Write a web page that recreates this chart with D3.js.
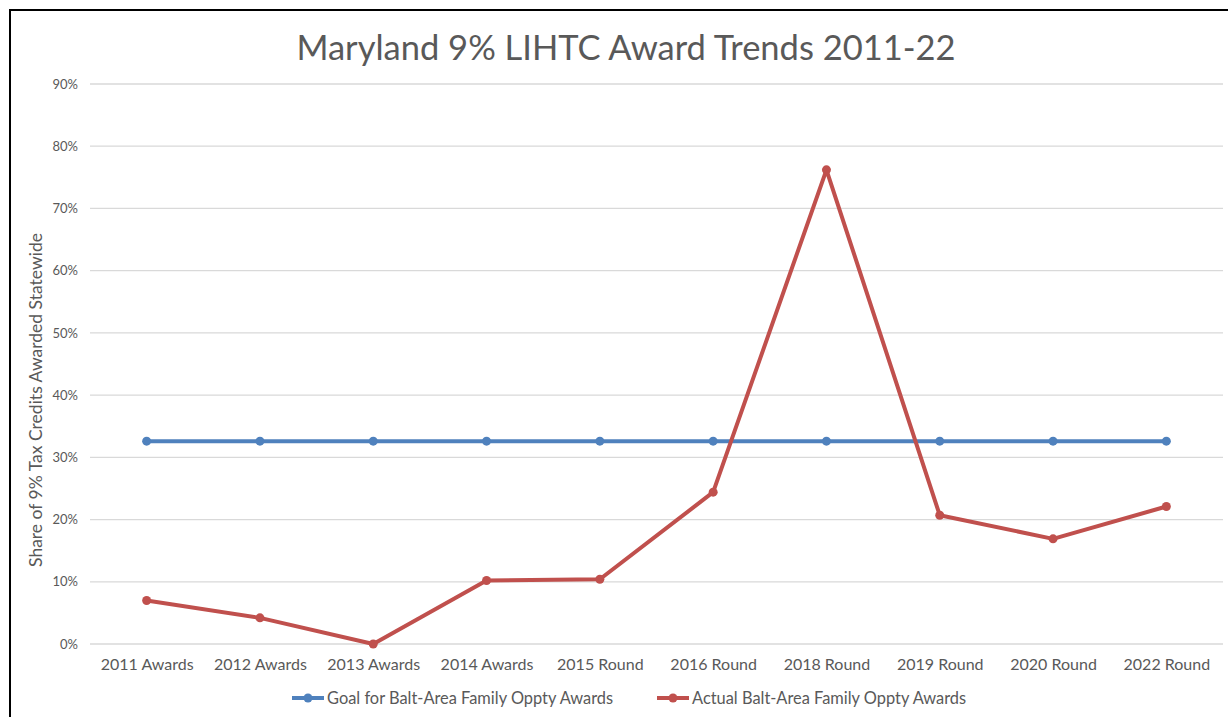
<!DOCTYPE html>
<html>
<head>
<meta charset="utf-8">
<script src="https://cdn.jsdelivr.net/npm/d3@7"></script>
<style>
  body { margin: 0; background: #fff; }
  svg { display: block; font-family: Lato, "Open Sans", sans-serif; }
</style>
</head>
<body>
<div class="chart"></div>
<script>
// chart data
const categories = ["2011 Awards", "2012 Awards", "2013 Awards", "2014 Awards", "2015 Round",
  "2016 Round", "2018 Round", "2019 Round", "2020 Round", "2022 Round"]
const goalValues = [0.326, 0.326, 0.326, 0.326, 0.326, 0.326, 0.326, 0.326, 0.326, 0.326]
const actualValues = [0.070, 0.042, 0.0, 0.102, 0.104, 0.244, 0.762, 0.207, 0.169, 0.221]
const yTicks = [0, 0.1, 0.2, 0.3, 0.4, 0.5, 0.6, 0.7, 0.8, 0.9]
const seriesNames = ["Goal for Balt-Area Family Oppty Awards", "Actual Balt-Area Family Oppty Awards"]
const seriesColors = ["#4f81bd", "#c0504d"]

let width = 1228, height = 717

let svg = d3.select("div.chart").append("svg")
  .attr("width", width)
  .attr("height", height)

// outer frame
svg.append("rect")
  .attr("x", 10).attr("y", 10)
  .attr("width", width + 10).attr("height", height + 10)
  .attr("fill", "none").attr("stroke", "#000").attr("stroke-width", 2)

svg.append("text")
  .attr("x", 626).attr("y", 60)
  .attr("text-anchor", "middle")
  .attr("fill", "#595959")
  .attr("font-size", 34.5)
  .text("Maryland 9% LIHTC Award Trends 2011-22")

let plotLeft = 90, plotRight = 1223, plotTop = 84, plotBottom = 644

let x = d3.scalePoint().domain(categories).range([plotLeft, plotRight]).padding(0.5)
let y = d3.scaleLinear().domain([0, 0.9]).range([plotBottom, plotTop])

// gridlines
svg.append("g").selectAll("line")
  .data(yTicks).enter().append("line")
  .attr("x1", plotLeft).attr("x2", plotRight)
  .attr("y1", d => y(d)).attr("y2", d => y(d))
  .attr("stroke", "#d9d9d9").attr("stroke-width", 1.3)

// y axis labels
let yAxis = svg.append("g")
  .attr("transform", `translate(${plotLeft - 12},0)`)
  .call(d3.axisLeft(y).tickValues(yTicks).tickFormat(d3.format(".0%")).tickSize(0).tickPadding(0))
yAxis.select(".domain").remove()
yAxis.selectAll("text").attr("fill", "#595959").attr("font-size", 13).attr("font-family", "Lato, sans-serif")

// x axis labels
let xAxis = svg.append("g")
  .attr("transform", `translate(0,${plotBottom + 13})`)
  .call(d3.axisBottom(x).tickSize(0).tickPadding(2))
xAxis.select(".domain").remove()
xAxis.selectAll("text").attr("fill", "#595959").attr("font-size", 16).attr("font-family", "Lato, sans-serif")

// y axis title
svg.append("text")
  .attr("transform", "translate(42,400) rotate(-90)")
  .attr("text-anchor", "middle")
  .attr("fill", "#595959")
  .attr("font-size", 17.5)
  .text("Share of 9% Tax Credits Awarded Statewide")

let line = d3.line()
  .x((d, i) => x(categories[i]))
  .y(d => y(d))

;[goalValues, actualValues].forEach((vals, s) => {
  let g = svg.append("g")
  g.append("path")
    .attr("d", line(vals))
    .attr("fill", "none")
    .attr("stroke", seriesColors[s])
    .attr("stroke-width", 4)
    .attr("stroke-linejoin", "round")
  g.selectAll("circle")
    .data(vals).enter().append("circle")
    .attr("cx", (d, i) => x(categories[i]))
    .attr("cy", d => y(d))
    .attr("r", 4.5)
    .attr("fill", seriesColors[s])
})

// legend
let legendX = [292, 657]
seriesNames.forEach((name, s) => {
  let g = svg.append("g").attr("transform", `translate(${legendX[s]},698)`)
  g.append("line").attr("x1", 0).attr("x2", 32)
    .attr("stroke", seriesColors[s]).attr("stroke-width", 4)
  g.append("circle").attr("cx", 16).attr("r", 4.5).attr("fill", seriesColors[s])
  g.append("text").attr("x", 35).attr("dy", "0.35em")
    .attr("fill", "#595959").attr("font-size", 16.4)
    .text(name)
})
</script>
</body>
</html>
